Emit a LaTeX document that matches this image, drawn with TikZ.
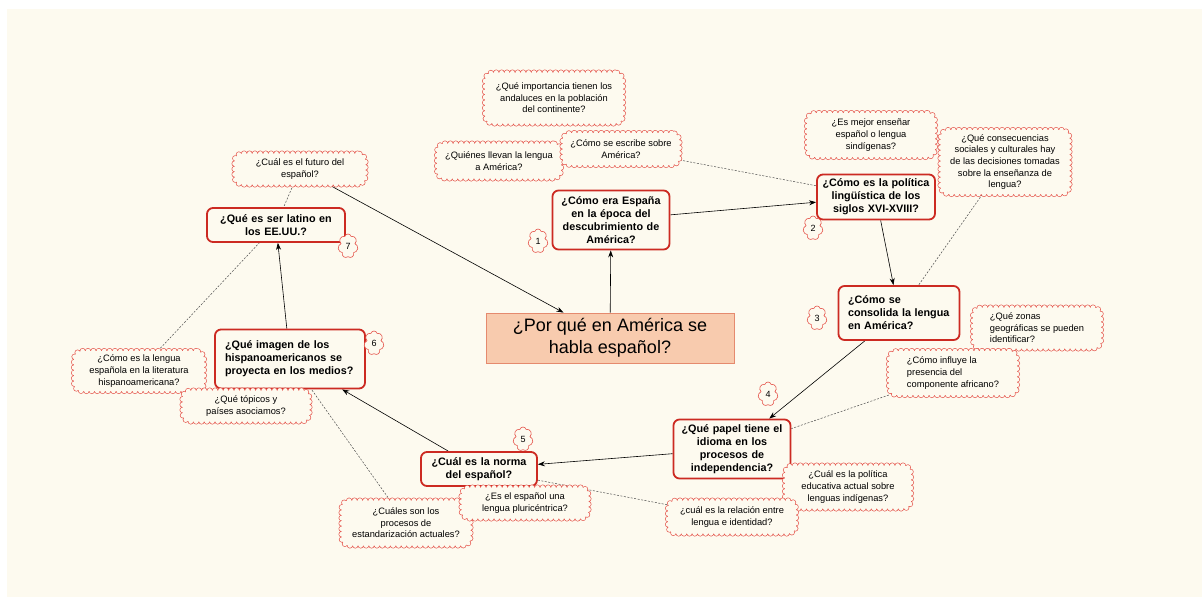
\documentclass[tikz,border=0pt]{standalone}
\usepackage{fontspec}
\setmainfont{Liberation Sans}
\usetikzlibrary{shapes.symbols,backgrounds,arrows.meta}
\definecolor{papel}{HTML}{FDFAEF}
\definecolor{rojo}{HTML}{CC2A22}
\definecolor{nube}{HTML}{E5564D}
\definecolor{salmon}{HTML}{F8CBAE}
\definecolor{borde}{HTML}{E58A6E}
\tikzset{
  tema/.style={draw=rojo, line width=1.8pt, rounded corners=6pt, fill=papel, align=center,
    font=\fontsize{10.8}{13}\selectfont\bfseries, inner sep=4pt},
  nubeq/.style={fill=papel, rounded corners=8pt,
    preaction={draw=nube, line width=6pt, dash pattern=on 0pt off 5.4pt, line cap=round},
    preaction={draw=papel, line width=4.6pt, dash pattern=on 0pt off 5.4pt, line cap=round},
    align=center, font=\fontsize{9.3}{11.6}\selectfont, inner sep=2pt},
  numq/.style={cloud, cloud puffs=7, aspect=0.8, draw=nube, fill=papel, line width=0.6pt,
    font=\fontsize{9}{10}\selectfont, minimum width=20pt, minimum height=24pt, inner sep=0pt},
  raizq/.style={draw=borde, fill=salmon, line width=0.8pt, align=center,
    font=\fontsize{18}{22}\selectfont, minimum width=248pt, minimum height=50pt},
  enlace/.style={->, line width=0.6pt},
  punteado/.style={dash pattern=on 2pt off 1.5pt, line width=0.5pt, black!70},
}
\newcommand{\tema}[4][]{%
 \node[tema,#1] ({#2}) at ({#3}) {#4};%
}
\newcommand{\pregunta}[4][]{%
 \node[nubeq,#1] ({#2}) at ({#3}) {#4};%
}
\newcommand{\numero}[3]{%
 \node[numq] ({#1}) at ({#2}) {#3};%
}
\begin{document}
\begin{tikzpicture}[x=1pt, y=-1pt, >={Stealth[length=7pt,width=5pt]}]
  \useasboundingbox (0,0) rectangle (1202,597);
  \begin{scope}[on background layer]
    \fill[white] (0,0) rectangle (1202,597);
    \fill[papel] (7,9) rectangle (1202,597);
  \end{scope}
  \node[raizq] (raiz) at (610,338) {¿Por qué en América se\\habla español?};
  \tema[text width=109pt, minimum height=59pt]{t1}{611,220}{¿Cómo era España\\en la época del\\descubrimiento de\\América?}
  \tema[text width=110pt, minimum height=45pt]{t2}{876,197}{¿Cómo es la política\\lingüística de los\\siglos XVI-XVIII?}
  \tema[text width=102pt, minimum width=121pt, minimum height=54pt, align=left]{t3}{899,313}{¿Cómo se\\consolida la lengua\\en América?}
  \tema[text width=109pt, minimum height=59pt]{t4}{732,449}{¿Qué papel tiene el\\idioma en los\\procesos de\\independencia?}
  \tema[text width=108pt, minimum height=34pt]{t5}{479,469}{¿Cuál es la norma\\del español?}
  \tema[text width=130pt, minimum width=150pt, minimum height=59pt, align=left]{t6}{290,359}{¿Qué imagen de los\\hispanoamericanos se\\proyecta en los medios?}
  \tema[text width=130pt, minimum height=34pt]{t7}{276,225}{¿Qué es ser latino en\\los EE.UU.?}
  \pregunta[minimum width=138pt, minimum height=51pt]{p1}{554,98}{¿Qué importancia tienen los\\andaluces en la población\\del continente?}
  \pregunta[minimum width=124pt, minimum height=35pt]{p2}{499,161}{¿Quiénes llevan la lengua\\a América?}
  \pregunta[minimum width=117pt, minimum height=32pt]{p3}{621,149}{¿Cómo se escribe sobre\\América?}
  \pregunta[minimum width=128pt, minimum height=44pt]{p4}{871,135}{¿Es mejor enseñar\\español o lengua\\sindígenas?}
  \pregunta[minimum width=129pt, minimum height=64pt]{p5}{1005,162}{¿Qué consecuencias\\sociales y culturales hay\\de las decisiones tomadas\\sobre la enseñanza de\\lengua?}
  \pregunta[minimum width=131pt, minimum height=31pt]{p6}{300,169}{¿Cuál es el futuro del\\español?}
  \pregunta[minimum width=130pt, minimum height=40pt]{p7}{139,371}{¿Cómo es la lengua\\española en la literatura\\hispanoamericana?}
  \pregunta[minimum width=127pt, minimum height=31pt]{p8}{246,406}{¿Qué tópicos y\\países asociamos?}
  \pregunta[minimum width=128pt, minimum height=41pt, align=left]{p9}{1037,328}{¿Qué zonas\\geográficas se pueden\\identificar?}
  \pregunta[minimum width=128pt, minimum height=44pt, align=left]{p10}{953,373}{¿Cómo influye la\\presencia del\\componente africano?}
  \pregunta[minimum width=126pt, minimum height=43pt]{p11}{848,487}{¿Cuál es la política\\educativa actual sobre\\lenguas indígenas?}
  \pregunta[minimum width=128pt, minimum height=33pt]{p12}{732,517}{¿cuál es la relación entre\\lengua e identidad?}
  \pregunta[minimum width=129pt, minimum height=45pt]{p14}{406,523}{¿Cuáles son los\\procesos de\\estandarización actuales?}
  \pregunta[minimum width=127pt, minimum height=31pt]{p13}{525,503}{¿Es el español una\\lengua pluricéntrica?}
  \numero{n1}{538,241}{1}
  \numero{n2}{813,228}{2}
  \numero{n3}{817,318}{3}
  \numero{n4}{768,394}{4}
  \numero{n5}{523,439}{5}
  \numero{n6}{374,343}{6}
  \numero{n7}{348,246}{7}
  % conectores debajo de las nubes
  \begin{scope}[on background layer]
    \draw[enlace] (raiz) -- (t1);
    \draw[enlace] (t1) -- (t2);
    \draw[enlace] (t2) -- (t3);
    \draw[enlace] (t3) -- (t4);
    \draw[enlace] (t4) -- (t5);
    \draw[enlace] (t5) -- (t6);
    \draw[enlace] (t6) -- (t7);
    \draw[enlace] (p6) -- (raiz);
    \draw[punteado] (p3) -- (t2);
    \draw[punteado] (p5) -- (t3);
    \draw[punteado] (p10) -- (t4);
    \draw[punteado] (t5) -- (p12);
    \draw[punteado] (p14) -- (t6);
    \draw[punteado] (p6) -- (t7);
    \draw[punteado] (p7) -- (t7);
  \end{scope}
\end{tikzpicture}
\end{document}
